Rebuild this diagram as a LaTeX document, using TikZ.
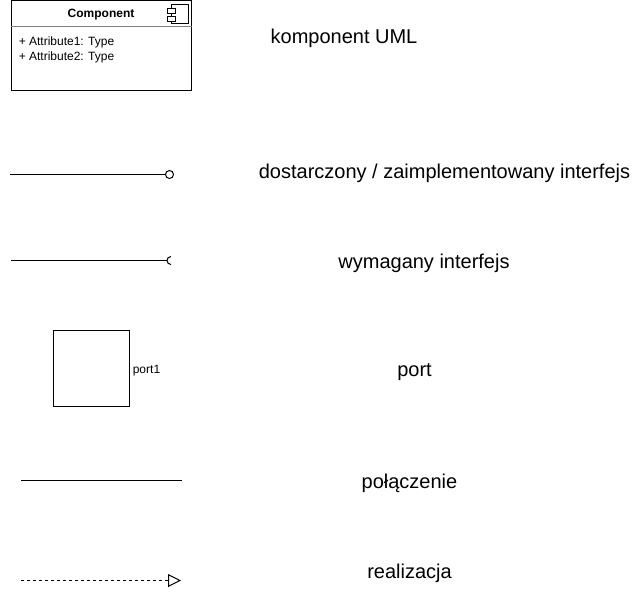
\documentclass[tikz,border=0pt]{standalone}
\usepackage{fontspec}
\setmainfont{Liberation Sans}
\usetikzlibrary{arrows.meta}
\begin{document}
\begin{tikzpicture}[x=1pt,y=-1pt,line width=1pt,
  lab/.style={inner sep=0pt,font=\fontsize{20}{22}\selectfont},
  small/.style={inner sep=0pt,font=\fontsize{12}{14}\selectfont},
  tab/.style={draw,fill=white,minimum width=8pt,minimum height=5pt,inner sep=0pt},
  pin/.style={draw,circle,fill=white,minimum size=8pt,inner sep=0pt},
  real/.style={dashed,dash pattern=on 3pt off 3pt,-{Triangle[open,length=13pt,width=13pt]}}]

      \useasboundingbox (0,0) rectangle (640,595);

      % component
      \node[draw,minimum width=180pt,minimum height=90pt,inner sep=0pt] (comp) at (101.5,45.5) {};
      \draw[gray] (comp.west |- 0,26.5) -- (comp.east |- 0,26.5);
      \node[small,font=\bfseries\fontsize{12}{14}\selectfont] (title) at (101,14.5) {Component};
      \node[small] (attr1) at (66.5,42) {+ Attribute1: Type};
      \node[small] (attr2) at (66.5,57) {+ Attribute2: Type};
      \node[draw,minimum width=17pt,minimum height=19pt,inner sep=0pt] (icon) at (179.5,14) {};
      \node[tab] (tab1) at (171.5,10.5) {};
      \node[tab] (tab2) at (171.5,19) {};
      \node[lab] (l1) at (344,38) {komponent UML};

      % provided
      \coordinate (p1) at (10,174.5);
      \node[pin] (ball) at (169.5,174.5) {};
      \draw (p1) -- (ball);
      \node[lab] (l2) at (444.5,173.5) {dostarczony / zaimplementowany interfejs};

      % required
      \coordinate (r1) at (11,260.5);
      \coordinate (r2) at (167,260.5);
      \draw (r1) -- (r2);
      \draw (171,264.5) arc[start angle=90,end angle=270,radius=4];
      \node[lab] (l3) at (424,263.5) {wymagany interfejs};

      % port
      \node[draw,minimum width=76pt,minimum height=76pt,inner sep=0pt] (port) at (91.5,368.5) {};
      \node[small] (portname) at (146.5,370.5) {port1};
      \node[lab] (l4) at (414.5,372) {port};

      % connection
      \coordinate (c1) at (21,480.5);
      \coordinate (c2) at (182,480.5);
      \draw (c1) -- (c2);
      \node[lab] (l5) at (409.5,483.5) {połączenie};

      % realization
      \coordinate (d1) at (21,580.5);
      \coordinate (d2) at (181,580.5);
      \draw[real] (d1) -- (d2);
      \node[lab] (l6) at (409.5,573.5) {realizacja};

    \end{tikzpicture}
\end{document}
